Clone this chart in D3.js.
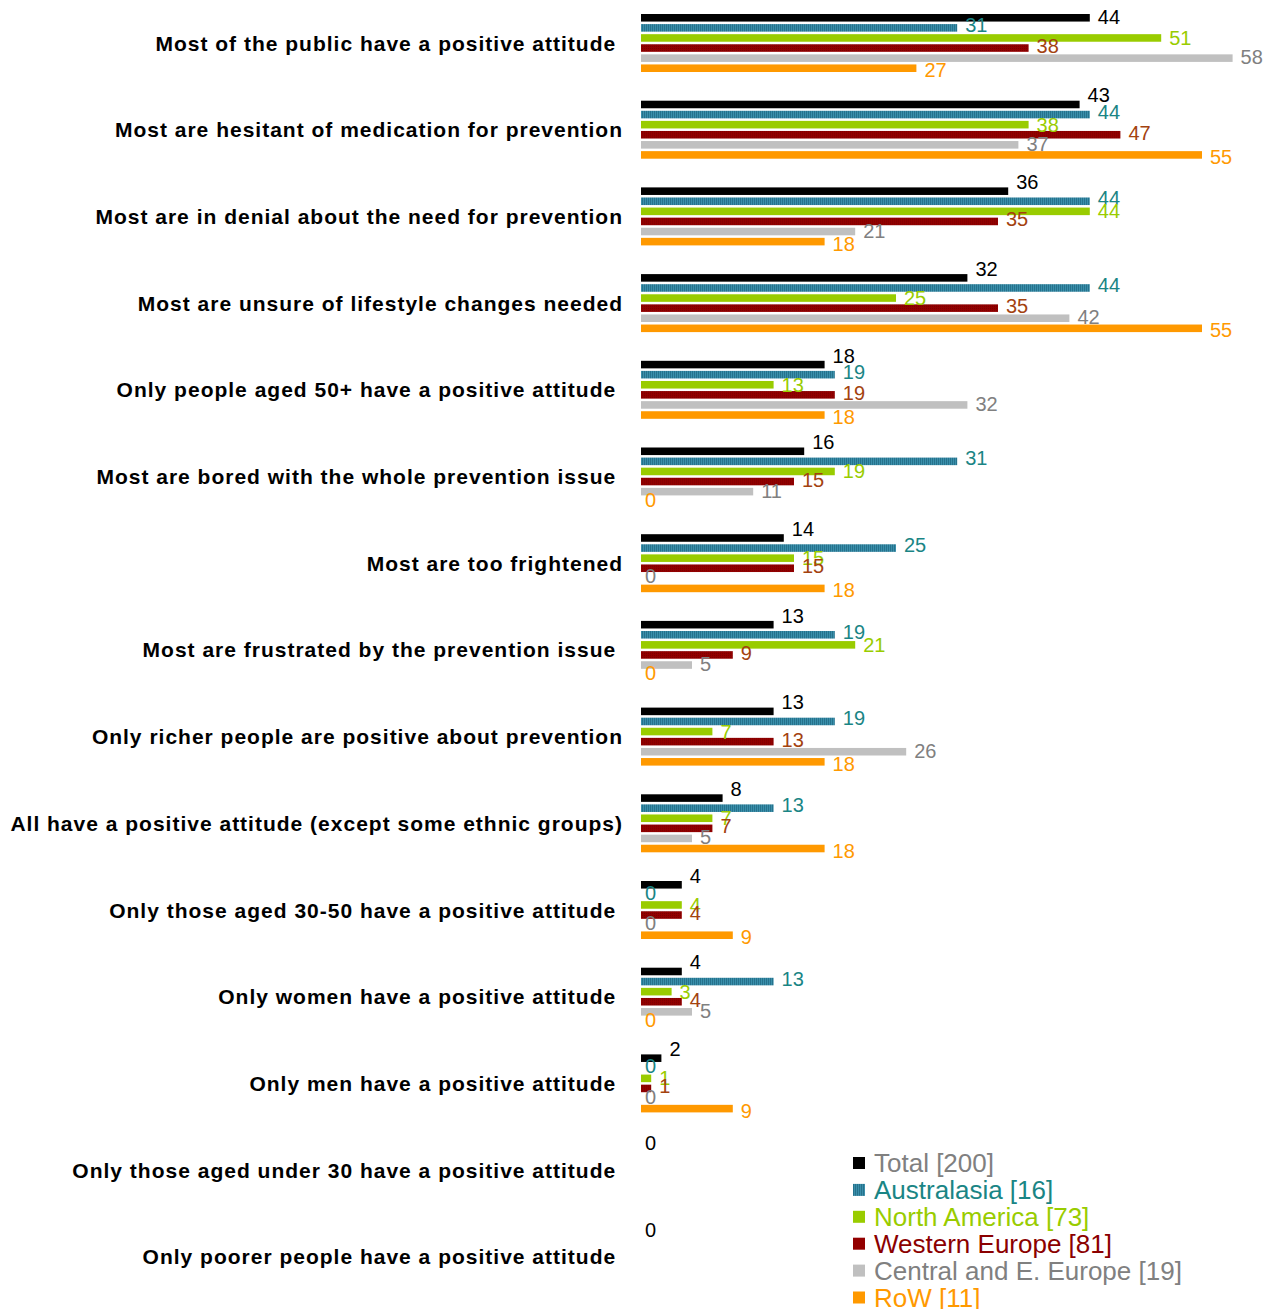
<!DOCTYPE html>
<html>
<head>
<meta charset="utf-8">
<script src="https://cdn.jsdelivr.net/npm/d3@7"></script>
<style>
  html, body { margin: 0; padding: 0; background: #fff; }
  svg text { white-space: pre; }
</style>
</head>
<body>
<svg id="chart" width="1266" height="1309"></svg>
<script>
// Statements about public attitudes to prevention, one group of bars per statement
const categories = [
  "Most of the public have a positive attitude ",
  "Most are hesitant of medication for prevention",
  "Most are in denial about the need for prevention",
  "Most are unsure of lifestyle changes needed",
  "Only people aged 50+ have a positive attitude ",
  "Most are bored with the whole prevention issue ",
  "Most are too frightened",
  "Most are frustrated by the prevention issue ",
  "Only richer people are positive about prevention",
  "All have a positive attitude (except some ethnic groups)",
  "Only those aged 30-50 have a positive attitude ",
  "Only women have a positive attitude ",
  "Only men have a positive attitude ",
  "Only those aged under 30 have a positive attitude ",
  "Only poorer people have a positive attitude "
];

const seriesNames = ["Total", "Australasia", "North America", "Western Europe", "Central and E. Europe", "RoW"];
const seriesBase = [200, 16, 73, 81, 19, 11];

// Percentages per series, in category order (null = no answer recorded)
const total        = [44, 43, 36, 32, 18, 16, 14, 13, 13, 8, 4, 4, 2, 0, 0];
const australasia  = [31, 44, 44, 44, 19, 31, 25, 19, 19, 13, 0, 13, 0, null, null];
const northAmerica = [51, 38, 44, 25, 13, 19, 15, 21, 7, 7, 4, 3, 1, null, null];
const westernEurope= [38, 47, 35, 35, 19, 15, 15, 9, 13, 7, 4, 4, 1, null, null];
const centralEurope= [58, 37, 21, 42, 32, 11, 0, 5, 26, 5, 0, 5, 0, null, null];
const restOfWorld  = [27, 55, 18, 55, 18, 0, 18, 0, 18, 18, 9, 0, 9, null, null];

const seriesValues = [total, australasia, northAmerica, westernEurope, centralEurope, restOfWorld];

const barColors   = ["#000000", "url(#hatchBlue)", "#99cc00", "url(#dotRed)", "#c0c0c0", "#ff9900"];
const labelColors = ["#000000", "#1a8585", "#99cc00", "#a3420f", "#808080", "#ff9900"];
const legendText  = ["#808080", "#1a8585", "#99cc00", "#8b0000", "#808080", "#ff9900"];
// vertical nudge of each series' value label relative to its bar
const labelNudge  = [-9, -3, 0, -2, -1, 2];

const svg = d3.select("#chart");
const defs = svg.append("defs");

// Fine vertical hatch for Australasia
const hb = defs.append("pattern").attr("id", "hatchBlue")
  .attr("patternUnits", "userSpaceOnUse").attr("width", 2).attr("height", 4);
hb.append("rect").attr("width", 2).attr("height", 4).attr("fill", "#3a8fab");
hb.append("rect").attr("width", 1).attr("height", 4).attr("fill", "#26728c");

// Subtle texture for Western Europe
const dr = defs.append("pattern").attr("id", "dotRed")
  .attr("patternUnits", "userSpaceOnUse").attr("width", 2).attr("height", 2);
dr.append("rect").attr("width", 2).attr("height", 2).attr("fill", "#930000");
dr.append("rect").attr("width", 1).attr("height", 1).attr("fill", "#7a0000");

const x = d3.scaleLinear().domain([0, 60]).range([641, 1253]);

const y = d3.scaleBand()
  .domain(categories)
  .range([14, 14 + 86.7 * categories.length])
  .paddingInner(0);

const inner = d3.scaleBand()
  .domain(seriesNames)
  .range([0, 58])
  .paddingInner(0.25);

const rows = categories.map((c, i) => ({
  category: c,
  values: seriesNames.map((s, j) => ({ series: s, j, value: seriesValues[j][i] }))
}));

const groups = svg.append("g").selectAll("g.group")
  .data(rows).join("g")
  .attr("class", "group")
  .attr("transform", d => `translate(0,${y(d.category)})`);

// Bars
groups.selectAll("rect.bar")
  .data(d => d.values.filter(v => v.value !== null && v.value > 0))
  .join("rect")
  .attr("class", "bar")
  .attr("x", x(0))
  .attr("y", v => inner(v.series))
  .attr("width", v => x(v.value) - x(0))
  .attr("height", inner.bandwidth())
  .attr("fill", v => barColors[v.j]);

// Value labels
groups.selectAll("text.value")
  .data(d => d.values.filter(v => v.value !== null))
  .join("text")
  .attr("class", "value")
  .attr("x", v => x(v.value) + (v.value > 0 ? 8 : 4))
  .attr("y", function(v) {
    const gTop = y(d3.select(this.parentNode).datum().category);
    let cy = inner(v.series) + inner.bandwidth() / 2;
    cy += v.value > 0 ? labelNudge[v.j] : -2;
    cy = Math.max(cy, 17 - gTop);
    return cy + 7;
  })
  .attr("font-family", "Liberation Sans, Arial, sans-serif")
  .attr("font-size", 20)
  .attr("fill", v => labelColors[v.j])
  .text(v => d3.format("d")(v.value));

// Category labels
groups.append("text")
  .attr("x", 623)
  .attr("y", 29 + 7.5)
  .attr("text-anchor", "end")
  .attr("font-family", "Liberation Sans, Arial, sans-serif")
  .attr("font-weight", "bold")
  .attr("font-size", 21)
  .attr("letter-spacing", 1.0)
  .attr("fill", "#000")
  .text(d => d.category);

// Legend
const legend = svg.append("g").attr("transform", "translate(853,1163)");
const li = legend.selectAll("g").data(seriesNames).join("g")
  .attr("transform", (d, i) => `translate(0,${i * 26.9})`);
li.append("rect").attr("x", 0).attr("y", -6).attr("width", 12).attr("height", 12)
  .attr("fill", (d, i) => barColors[i] === "url(#dotRed)" ? "#930000" : barColors[i]);
li.append("text").attr("x", 21).attr("y", 9)
  .attr("font-family", "Liberation Sans, Arial, sans-serif")
  .attr("font-size", 26)
  .attr("fill", (d, i) => legendText[i])
  .text((d, i) => `${d} [${seriesBase[i]}]`);
</script>
</body>
</html>
